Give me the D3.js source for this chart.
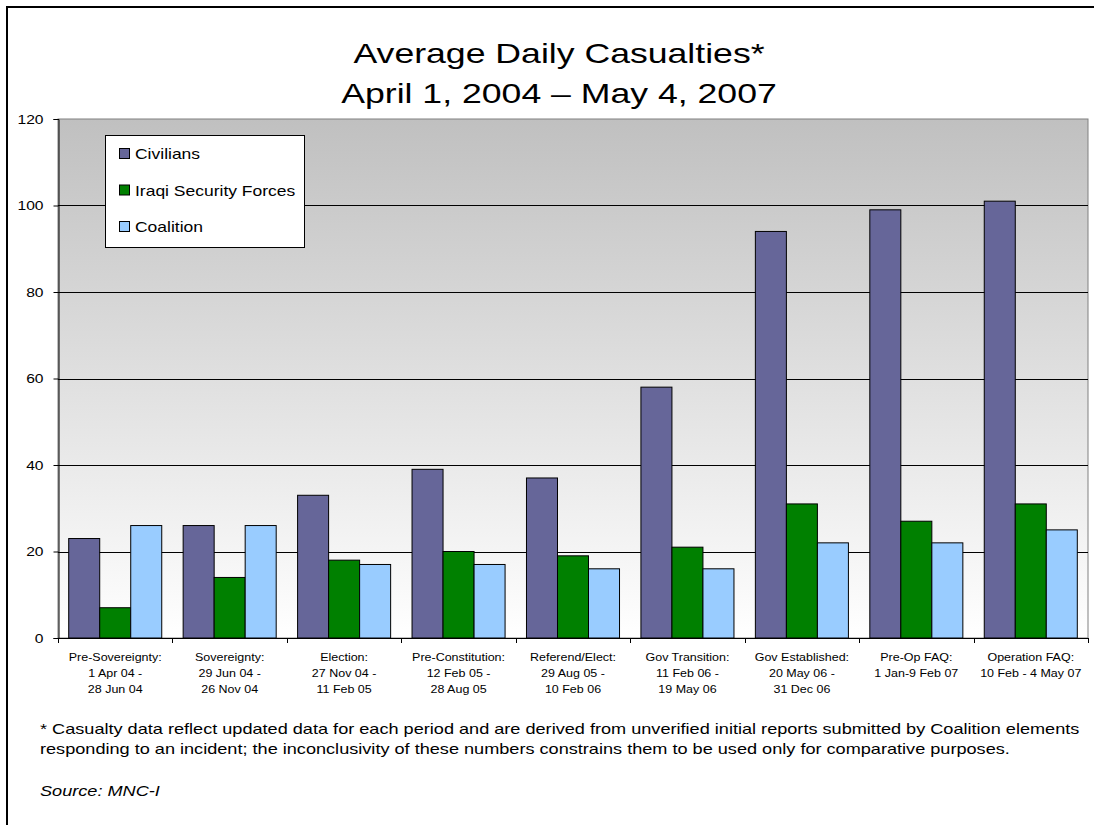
<!DOCTYPE html>
<html>
<head>
<meta charset="utf-8">
<script src="https://cdn.jsdelivr.net/npm/d3@7"></script>
<style>
  body { margin: 0; background: #fff; }
  svg { display: block; font-family: Arial, "Liberation Sans", sans-serif; }
</style>
</head>
<body>
<svg id="chart"></svg>
<script>
"use strict";

// periods (x categories), each split into label lines
var periods = [
  ["Pre-Sovereignty:", "1 Apr 04 -", "28 Jun 04"],
  ["Sovereignty:", "29 Jun 04 -", "26 Nov 04"],
  ["Election:", "27 Nov 04 -", "11 Feb 05"],
  ["Pre-Constitution:", "12 Feb 05 -", "28 Aug 05"],
  ["Referend/Elect:", "29 Aug 05 -", "10 Feb 06"],
  ["Gov Transition:", "11 Feb 06 -", "19 May 06"],
  ["Gov Established:", "20 May 06 -", "31 Dec 06"],
  ["Pre-Op FAQ:", "1 Jan-9 Feb 07"],
  ["Operation FAQ:", "10 Feb - 4 May 07"]
];
var seriesNames = ["Civilians", "Iraqi Security Forces", "Coalition"];
var civilians = [23, 26, 33, 39, 37, 58, 94, 99, 101];
var securityForces = [7, 14, 18, 20, 19, 21, 31, 27, 31];
var coalition = [26, 26, 17, 17, 16, 16, 22, 22, 25];
var yTicks = [0, 20, 40, 60, 80, 100, 120];
var colors = ["#666699", "#008000", "#99ccff"];

var width = 1094;
var height = 825;
var margin = { top: 119, right: 6, bottom: 187, left: 58 };
var plotW = width - margin.left - margin.right;
var plotH = height - margin.top - margin.bottom;
// the slide text is drawn a bit wide
var SX = 1.25;

function place(sel, x, y) {
  return sel.attr("transform", "translate(" + x + "," + y + ") scale(" + SX + ",1)");
}

var svg = d3.select("#chart").attr("width", width).attr("height", height);

// outer frame (cut off at right and bottom like the slide)
svg.append("rect").attr("x", 7).attr("y", 7).attr("width", 1200).attr("height", 1000)
  .attr("fill", "none").attr("stroke", "#000").attr("stroke-width", 2);

var defs = svg.append("defs");
var grad = defs.append("linearGradient").attr("id", "bg").attr("x1", 0).attr("y1", 0).attr("x2", 0).attr("y2", 1);
grad.append("stop").attr("offset", "0%").attr("stop-color", "#c0c0c0");
grad.append("stop").attr("offset", "100%").attr("stop-color", "#ffffff");

// title
place(svg.append("text"), 559, 63).attr("text-anchor", "middle").attr("font-size", 28.5)
  .text("Average Daily Casualties*");
place(svg.append("text"), 559, 103).attr("text-anchor", "middle").attr("font-size", 28.5)
  .text("April 1, 2004 \u2013 May 4, 2007");

var G = svg.append("g").attr("transform", "translate(" + margin.left + "," + margin.top + ")");

var x0 = d3.scaleBand().domain(d3.range(periods.length)).range([0, plotW]).padding(0);
var x1 = d3.scaleBand().domain(seriesNames).range([0, x0.bandwidth()]).paddingInner(0).paddingOuter(0.345);
var y = d3.scaleLinear().domain([0, 120]).range([plotH, 0]);

G.append("rect").attr("width", plotW).attr("height", plotH)
  .attr("fill", "url(#bg)").attr("stroke", "#808080").attr("stroke-width", 1);

// gridlines
G.append("g").selectAll("line").data(yTicks.filter(function (d) { return d > 0 && d < 120; }))
  .enter().append("line")
  .attr("x1", 0).attr("x2", plotW)
  .attr("y1", function (d) { return Math.round(y(d)) + 0.5; })
  .attr("y2", function (d) { return Math.round(y(d)) + 0.5; })
  .attr("stroke", "#000").attr("stroke-width", 1);

// bars
var rows = periods.map(function (p, i) {
  return [civilians[i], securityForces[i], coalition[i]];
});
var groups = G.append("g").selectAll("g").data(rows).enter().append("g")
  .attr("transform", function (d, i) { return "translate(" + x0(i) + ",0)"; });
groups.selectAll("rect").data(function (d) { return d; }).enter().append("rect")
  .attr("x", function (d, j) { return x1(seriesNames[j]); })
  .attr("y", function (d) { return y(d); })
  .attr("width", x1.bandwidth())
  .attr("height", function (d) { return plotH - y(d); })
  .attr("fill", function (d, j) { return colors[j]; })
  .attr("stroke", "#000").attr("stroke-width", 1);

// y axis
var yAxis = d3.axisLeft(y).tickValues(yTicks).tickSize(5);
var yG = G.append("g").attr("transform", "translate(0.5,0)").call(yAxis);
yG.select(".domain").attr("stroke", "#000");
yG.selectAll(".tick text")
  .attr("x", -15 / SX)
  .attr("transform", "scale(" + SX + ",1)")
  .attr("font-size", 12.5).attr("font-family", "Arial, 'Liberation Sans', sans-serif").attr("fill", "#000");

// x axis line and boundary ticks
G.append("line").attr("x1", 0).attr("x2", plotW).attr("y1", plotH + 0.5).attr("y2", plotH + 0.5)
  .attr("stroke", "#000");
var bounds = d3.range(periods.length + 1).map(function (i) {
  return i < periods.length ? x0(i) : plotW;
});
G.append("g").selectAll("line").data(bounds).enter().append("line")
  .attr("x1", function (d) { return Math.round(d) + 0.5; })
  .attr("x2", function (d) { return Math.round(d) + 0.5; })
  .attr("y1", plotH).attr("y2", plotH + 5)
  .attr("stroke", "#000");

// x labels
var xl = G.append("g").selectAll("text").data(periods).enter().append("text")
  .attr("text-anchor", "middle").attr("font-size", 10).attr("fill", "#000")
  .attr("transform", function (d, i) {
    return "translate(" + (x0(i) + x0.bandwidth() / 2) + "," + (plotH + 23) + ") scale(" + SX + ",1)";
  });
xl.selectAll("tspan").data(function (d) { return d; }).enter().append("tspan")
  .attr("x", 0).attr("y", function (d, k) { return k * 16; })
  .text(function (d) { return d; });

// legend
var legend = svg.append("g").attr("transform", "translate(105,135)");
legend.append("rect").attr("x", 0.5).attr("y", 0.5).attr("width", 199).attr("height", 112)
  .attr("fill", "#fff").attr("stroke", "#000");
var items = legend.selectAll("g.item").data(seriesNames).enter().append("g")
  .attr("class", "item")
  .attr("transform", function (d, i) { return "translate(14," + (19 + i * 36.5) + ")"; });
items.append("rect").attr("x", 0.5).attr("y", -5.5).attr("width", 10).attr("height", 10)
  .attr("fill", function (d, i) { return colors[i]; }).attr("stroke", "#000");
items.append("text").attr("font-size", 14).attr("fill", "#000")
  .attr("transform", "translate(16,5) scale(" + SX + ",1)")
  .text(function (d) { return d; });

// footnote
place(svg.append("text"), 40, 734).attr("font-size", 14.5)
  .text("* Casualty data reflect updated data for each period and are derived from unverified initial reports submitted by Coalition elements");
place(svg.append("text"), 40, 754).attr("font-size", 14.5)
  .text("responding to an incident; the inconclusivity of these numbers constrains them to be used only for comparative purposes.");
place(svg.append("text"), 40, 796).attr("font-size", 14.5).attr("font-style", "italic")
  .text("Source: MNC-I");
</script>
</body>
</html>
